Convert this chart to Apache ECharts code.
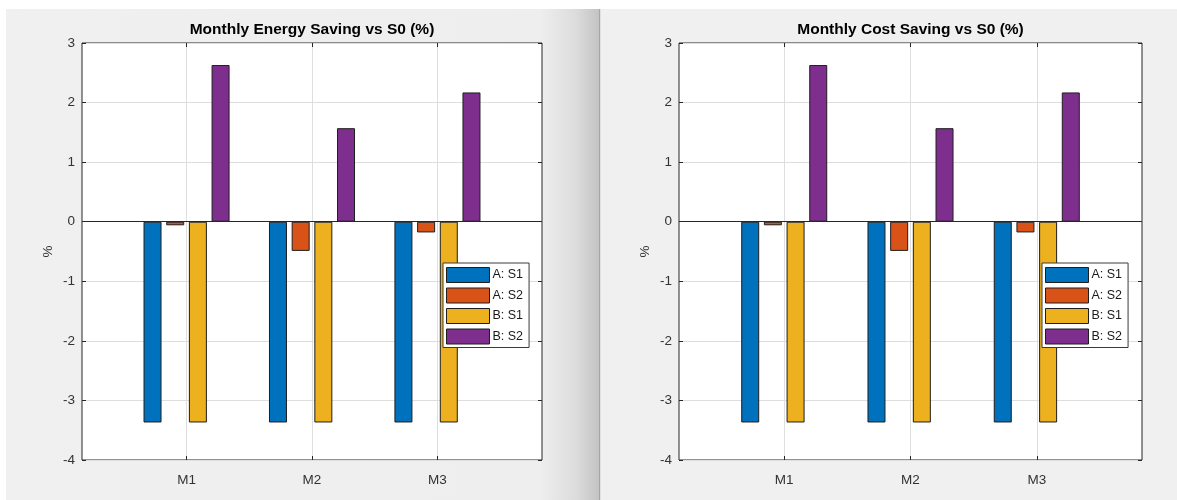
<!DOCTYPE html>
<html>
<head>
<meta charset="utf-8">
<script src="https://cdn.jsdelivr.net/npm/echarts@6/dist/echarts.min.js"></script>
<style>
html,body{margin:0;padding:0;background:#fff;}
#chart{width:1177px;height:500px;}
</style>
</head>
<body>
<div id="chart"></div>
<script>
// ---- data ----
const categories = ['M1', 'M2', 'M3'];
const seriesNames = ['A: S1', 'A: S2', 'B: S1', 'B: S2'];
const energyA_S1 = [-3.37, -3.37, -3.37];
const energyA_S2 = [-0.06, -0.49, -0.18];
const energyB_S1 = [-3.37, -3.37, -3.37];
const energyB_S2 = [2.63, 1.57, 2.17];
const costA_S1 = [-3.37, -3.37, -3.37];
const costA_S2 = [-0.06, -0.49, -0.18];
const costB_S1 = [-3.37, -3.37, -3.37];
const costB_S2 = [2.63, 1.57, 2.17];
const yTicks = [-4, -3, -2, -1, 0, 1, 2, 3];
const titles = ['Monthly Energy Saving vs S0 (%)', 'Monthly Cost Saving vs S0 (%)'];

// ---- style ----
const colors = ['#0072BD', '#D95319', '#EDB120', '#7E2F8E'];
const FONT = 'Arial, "Liberation Sans", Helvetica, sans-serif';
const AX = '#262626';
const GRIDC = '#dedede';
const catPos = categories.map((c, i) => i + 1);

const chart = echarts.init(document.getElementById('chart'), null, {renderer: 'canvas'});

const grids = [
  {left: 82, top: 43, width: 460, height: 417},
  {left: 679, top: 43, width: 463, height: 417}
];
const groups = [
  [energyA_S1, energyA_S2, energyB_S1, energyB_S2],
  [costA_S1, costA_S2, costB_S1, costB_S2]
];

const xAxes = [], yAxes = [], series = [], legends = [], titleOpts = [];
grids.forEach((g, gi) => {
  xAxes.push({
    gridIndex: gi, type: 'value', min: 1/6, max: 3 + 5/6, position: 'bottom',
    axisLine: {show: false, onZero: false},
    axisTick: {show: true, inside: true, length: 4, customValues: catPos, lineStyle: {color: AX}},
    axisLabel: {customValues: catPos, formatter: v => categories[Math.round(v) - 1] || '',
      color: '#333', fontFamily: FONT, fontSize: 13.5, margin: 13},
    splitLine: {show: true, lineStyle: {color: GRIDC, width: 1}}
  });
  xAxes.push({
    gridIndex: gi, type: 'value', min: 1/6, max: 3 + 5/6, position: 'top',
    axisLine: {show: false, onZero: false},
    axisTick: {show: true, inside: true, length: 4, customValues: catPos, lineStyle: {color: AX}},
    axisLabel: {show: false},
    splitLine: {show: false}
  });
  yAxes.push({
    gridIndex: gi, type: 'value', min: yTicks[0], max: yTicks[yTicks.length - 1], interval: 1,
    position: 'left',
    axisLine: {show: false, onZero: false},
    axisTick: {show: true, inside: true, length: 4, lineStyle: {color: AX}},
    axisLabel: {color: '#333', fontFamily: FONT, fontSize: 13.5, margin: 7},
    splitLine: {show: true, lineStyle: {color: GRIDC, width: 1}},
    name: '%', nameLocation: 'middle', nameGap: 27,
    nameTextStyle: {color: '#333', fontFamily: FONT, fontSize: 13.5}
  });
  yAxes.push({
    gridIndex: gi, type: 'value', min: yTicks[0], max: yTicks[yTicks.length - 1], interval: 1,
    position: 'right',
    axisLine: {show: false, onZero: false},
    axisTick: {show: true, inside: true, length: 4, lineStyle: {color: AX}},
    axisLabel: {show: false},
    splitLine: {show: false}
  });
  groups[gi].forEach((vals, si) => {
    const s = {
      type: 'bar', name: seriesNames[si],
      xAxisIndex: gi * 2, yAxisIndex: gi * 2,
      data: vals.map((v, i) => [catPos[i], v]),
      barWidth: 18, barGap: '26%',
      itemStyle: {color: colors[si], borderColor: '#1e1e1e', borderWidth: 1},
      emphasis: {disabled: true},
      z: 3
    };
    if (si === 0) {
      s.markLine = {
        silent: true, symbol: 'none', label: {show: false}, animation: false,
        lineStyle: {color: '#262626', width: 1, type: 'solid'},
        data: [{yAxis: 0}]
      };
    }
    series.push(s);
  });
  legends.push({
    orient: 'vertical', left: gi === 0 ? 443 : 1042, top: 263,
    data: seriesNames, icon: 'rect', itemWidth: 43, itemHeight: 15, itemGap: 4.5,
    itemStyle: {borderWidth: 1, borderColor: '#1e1e1e'},
    padding: [4, 6, 3, 3], backgroundColor: '#ffffff', borderColor: '#3a3a3a', borderWidth: 1, borderRadius: 0,
    textStyle: {color: '#1a1a1a', fontFamily: FONT, fontSize: 12.5, lineHeight: 15, padding: [0, 0, 0, -2]},
    selectedMode: false
  });
  titleOpts.push({
    text: titles[gi], left: g.left + g.width / 2, top: 22, textAlign: 'center', padding: 0,
    textStyle: {color: '#000', fontFamily: FONT, fontSize: 15.5, fontWeight: 'bold'}
  });
});

const option = {
  backgroundColor: '#ffffff',
  animation: false,
  title: titleOpts,
  legend: legends,
  grid: grids.map(g => Object.assign({show: true, backgroundColor: '#ffffff', borderColor: AX, borderWidth: 1, containLabel: false}, g)),
  xAxis: xAxes,
  yAxis: yAxes,
  series: series,
  graphic: {elements: [
    {type: 'rect', silent: true, z: -10, shape: {x: 6, y: 9, width: 594, height: 491},
     style: {fill: new echarts.graphic.LinearGradient(0, 0, 1, 0, [
       {offset: 0, color: '#f0f0f0'}, {offset: 0.9, color: '#eeeeee'},
       {offset: 0.96, color: '#dcdcdc'}, {offset: 1, color: '#c2c2c2'}])}},
    {type: 'rect', silent: true, z: -10, shape: {x: 599, y: 9, width: 1.5, height: 491},
     style: {fill: '#a9a3a9'}},
    {type: 'rect', silent: true, z: -10, shape: {x: 600.5, y: 9, width: 577, height: 491},
     style: {fill: '#f0f0f0'}}
  ]}
};
chart.setOption(option);
</script>
</body>
</html>
